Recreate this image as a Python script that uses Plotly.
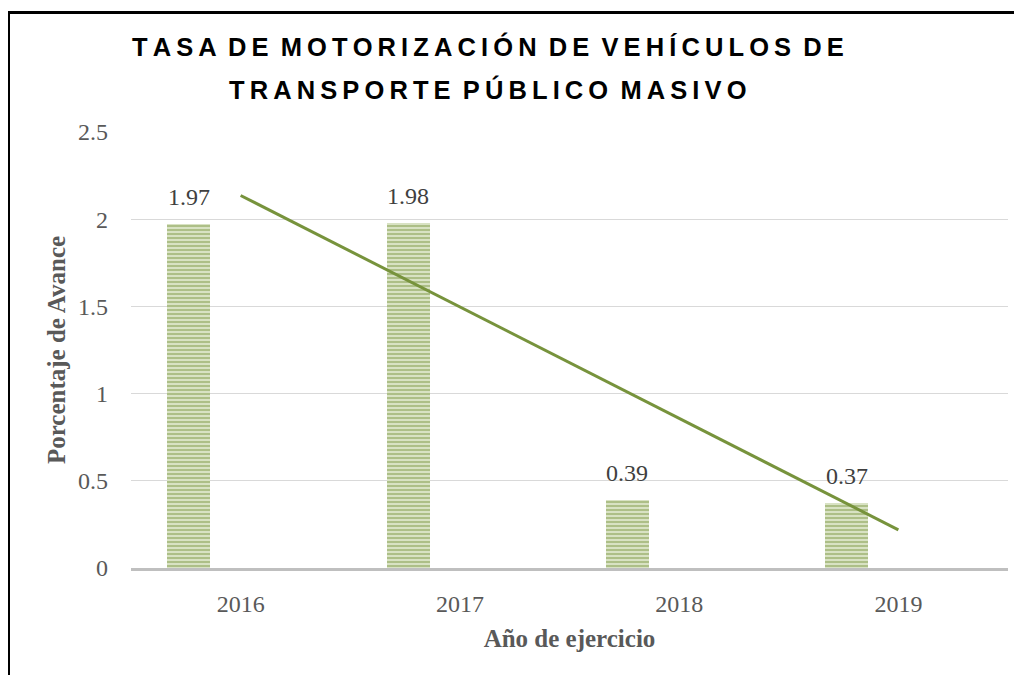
import numpy as np
import plotly.graph_objects as go

# ── Data ──────────────────────────────────────────────────────────────────
years = ["2016", "2017", "2018", "2019"]
tasa = [1.97, 1.98, 0.39, 0.37]
y_ticks = [0, 0.5, 1, 1.5, 2, 2.5]
y_tick_labels = ["0", "0.5", "1", "1.5", "2", "2.5"]

title_lines = ["TASA DE MOTORIZACIÓN DE VEHÍCULOS DE", "TRANSPORTE PÚBLICO MASIVO"]

GREEN = "#77933C"
SERIF = "Liberation Serif, Times New Roman, serif"
SANS = "Liberation Sans, Arial, sans-serif"

# page body adds an 8px margin, so layout pixels = screen pixels - 8
OFF = 8
W, H = 1022, 675
L, R, T, B = 123, 22, 124, 115

BAR_W = 0.196
BAR_OFF = -0.334


def spaced(text: str) -> str:
    """Fake letter-spacing with thin spaces between letters."""
    return " \u2009".join("\u2009".join(word) for word in text.split(" "))


# linear trend (least squares over category index)
idx = np.arange(1, len(tasa) + 1)
slope, intercept = np.polyfit(idx, tasa, 1)
trend = slope * idx + intercept

fig = go.Figure()
fig.add_trace(
    go.Bar(
        x=years,
        y=tasa,
        width=BAR_W,
        offset=BAR_OFF,
        marker=dict(
            color="#e3ebd2",
            line=dict(width=0),
            pattern=dict(shape="-", fgcolor=GREEN, bgcolor="#e3ebd2", size=4, solidity=0.6),
        ),
        showlegend=False,
        hoverinfo="x+y",
    )
)
fig.add_trace(
    go.Scatter(
        x=years,
        y=trend,
        mode="lines",
        line=dict(color=GREEN, width=3),
        showlegend=False,
        hoverinfo="skip",
    )
)

# data labels above each bar (x given as category index)
cat_px = (W - L - R) / len(years)
for i, v in enumerate(tasa):
    fig.add_annotation(
        x=i, y=v, text=f"{v:.2f}", showarrow=False,
        xanchor="center", yanchor="bottom",
        xshift=(BAR_OFF + BAR_W / 2) * cat_px, yshift=12,
        font=dict(family=SERIF, size=24, color="#404040"),
    )

# frame (only left and top edges visible in the crop)
px = lambda x: (x - OFF - L) / (W - L - R)
py = lambda y: (H - B - (y - OFF)) / (H - T - B)
fig.add_shape(type="line", xref="paper", yref="paper",
              x0=px(8.5), x1=px(8.5), y0=py(11), y1=py(H + 20),
              line=dict(color="black", width=3))
fig.add_shape(type="line", xref="paper", yref="paper",
              x0=px(7), x1=px(W + 20), y0=py(12.5), y1=py(12.5),
              line=dict(color="black", width=3))

for line, yc in zip(title_lines, [47, 89]):
    fig.add_annotation(
        text=spaced(line), xref="paper", yref="paper",
        x=px(488), y=py(yc), xanchor="center", yanchor="middle",
        showarrow=False, font=dict(family=SANS, size=25.5, color="black", weight="bold"),
    )

fig.update_layout(
    width=W,
    height=H,
    margin=dict(l=L, r=R, t=T, b=B),
    paper_bgcolor="white",
    plot_bgcolor="white",
    bargap=0,
    xaxis=dict(
        type="category",
        range=[-0.5, len(years) - 0.5],
        showgrid=False,
        showline=True,
        linecolor="#bfbfbf",
        linewidth=3,
        ticks="",
        ticklabelstandoff=12,
        tickfont=dict(family=SERIF, size=24, color="#595959"),
        title=dict(text="Año de ejercicio", standoff=14,
                   font=dict(family=SERIF, size=25, color="#595959", weight="bold")),
    ),
    yaxis=dict(
        range=[0, 2.5],
        tickvals=y_ticks,
        ticktext=y_tick_labels,
        showgrid=True,
        gridcolor="#d9d9d9",
        gridwidth=1,
        zeroline=False,
        showline=False,
        ticks="",
        ticklabelstandoff=22,
        tickfont=dict(family=SERIF, size=24, color="#595959"),
        title=dict(text="Porcentaje de Avance", standoff=5,
                   font=dict(family=SERIF, size=25, color="#595959", weight="bold")),
    ),
)

fig.write_html("out.html")
